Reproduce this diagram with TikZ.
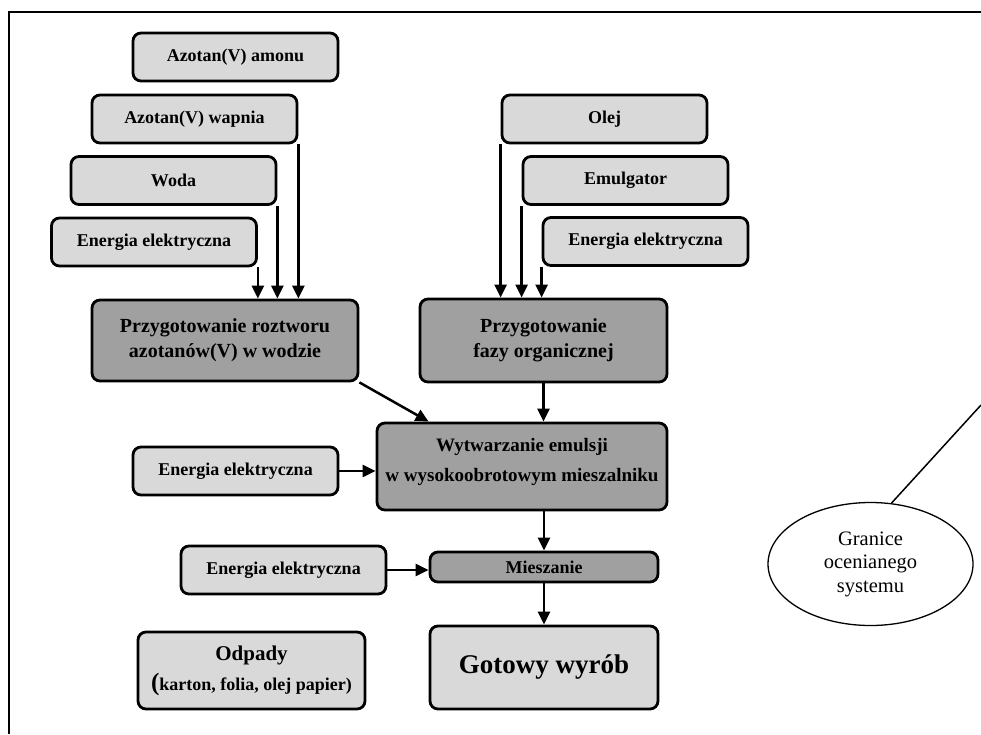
\documentclass[tikz,border=0pt]{standalone}
\usepackage{fontspec}
\setmainfont{Liberation Serif}
\usetikzlibrary{arrows.meta,shapes.geometric}
\definecolor{jasny}{HTML}{D9D9D9}
\definecolor{ciemny}{HTML}{A0A0A0}
\tikzset{
    pudlo/.style={draw,line width=2.8pt,rounded corners=8pt,align=center,inner sep=0pt,font=\bfseries\fontsize{18}{21}\selectfont},
    wejscie/.style={pudlo,fill=jasny,minimum width=205pt,minimum height=48pt},
    proces/.style={pudlo,fill=ciemny,font=\bfseries\fontsize{20}{25}\selectfont},
    strzalka/.style={-{Triangle[length=13pt,width=12pt]},line width=2.5pt},
}
\begin{document}
\begin{tikzpicture}[x=1pt,y=-1pt]
    \useasboundingbox (0,0) rectangle (981,734);
    \draw [line width=1.5pt] (981,12) -- (9,12) -- (9,734);
    \node [wejscie] (amonu) at (235.5,57) {Azotan(V) amonu};
    \node [wejscie] (wapnia) at (194.5,119) {Azotan(V) wapnia};
    \node [wejscie] (woda) at (173.5,180.5) {Woda};
    \node [wejscie] (prad1) at (154,242) {Energia elektryczna};
    \node [proces,minimum width=266pt,minimum height=81pt] (roztwor) at (225,340.5) {Przygotowanie roztworu\\azotanów(V) w wodzie};
    \node [wejscie] (olej) at (604.5,119) {Olej};
    \node [wejscie] (emulgator) at (625.5,180.5) {Emulgator};
    \node [wejscie] (prad2) at (645.5,241.5) {Energia elektryczna};
    \node [proces,minimum width=247pt,minimum height=83pt] (faza) at (543.5,340.5) {Przygotowanie\\fazy organicznej};
    \node [proces,minimum width=290pt,minimum height=87pt,text depth=14pt,font=\bfseries\fontsize{19}{30}\selectfont] (emulsja) at (522,466.5) {Wytwarzanie emulsji\\w wysokoobrotowym mieszalniku};
    \node [wejscie] (prad3) at (235.5,471) {Energia elektryczna};
    \node [proces,minimum width=228pt,minimum height=30pt,font=\bfseries\fontsize{18}{21}\selectfont] (mieszanie) at (544,567) {Mieszanie};
    \node [wejscie] (prad4) at (283.5,570) {Energia elektryczna};
    \node [wejscie,minimum width=228pt,minimum height=83pt,font=\bfseries\fontsize{27}{32}\selectfont] (wyrob) at (544,667.5) {Gotowy wyrób};
    \node [wejscie,minimum width=227pt,minimum height=77pt,font=\bfseries\fontsize{18}{30}\selectfont] (odpady) at (251.5,670.5) {{\fontsize{21}{30}\selectfont Odpady}\\{\fontsize{25}{30}\selectfont(}karton, folia, olej papier)};
    \node [ellipse,draw,line width=1.3pt,minimum width=205pt,minimum height=123pt,inner sep=0pt,align=center,font=\fontsize{20.5}{23.5}\selectfont] (granice) at (870.5,564) {Granice\\ocenianego\\systemu};
    \coordinate (rama) at (981,405);
    \draw [strzalka] (prad1.south east) -- (prad1.south east |- roztwor.north);
    \draw [strzalka] (woda.south east) -- (woda.south east |- roztwor.north);
    \draw [strzalka] (wapnia.south east) -- (wapnia.south east |- roztwor.north);
    \draw [strzalka] (olej.south west) -- (olej.south west |- faza.north);
    \draw [strzalka] (emulgator.south west) -- (emulgator.south west |- faza.north);
    \draw [strzalka] (prad2.south west) -- (prad2.south west |- faza.north);
    \draw [strzalka] (roztwor.south east) -- ([xshift=53pt]emulsja.north west);
    \draw [strzalka] (faza.south) -- (faza.south |- emulsja.north);
    \draw [strzalka] (prad3.east) -- (prad3.east -| emulsja.west);
    \draw [strzalka] (mieszanie.north |- emulsja.south) -- (mieszanie.north);
    \draw [strzalka] (prad4.east) -- (prad4.east -| mieszanie.west);
    \draw [strzalka] (mieszanie.south) -- (wyrob.north);
    \draw [line width=1.5pt] (granice.71) -- (rama);
\end{tikzpicture}
\end{document}
